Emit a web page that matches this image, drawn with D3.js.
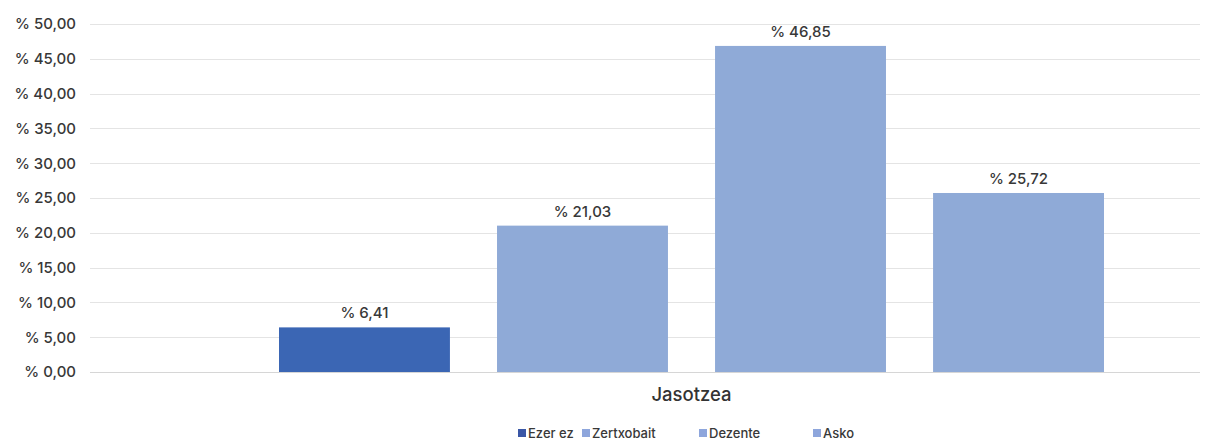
<!DOCTYPE html>
<html>
<head>
<meta charset="utf-8">
<script src="https://cdn.jsdelivr.net/npm/d3@7"></script>
<style>
  html, body { margin: 0; padding: 0; background: #fff; }
  svg { display: block; font-family: Inter, "Noto Sans", sans-serif; font-weight: 500; }
</style>
</head>
<body>
<svg id="chart" width="1209" height="440"></svg>
<script>
// Survey responses for "Jasotzea"
const group = "Jasotzea";
const categories = ["Ezer ez", "Zertxobait", "Dezente", "Asko"];
const values = [6.41, 21.03, 46.85, 25.72];
const yTicks = [0, 5, 10, 15, 20, 25, 30, 35, 40, 45, 50];
const colors = ["#3b66b4", "#8faad7", "#8faad7", "#8faad7"];
const legendColors = ["#3a57a6", "#8ea6dc", "#8ea6dc", "#8ea6dc"];

const svg = d3.select("#chart");
const fmt = v => "% " + v.toFixed(2).replace(".", ",");

const y = d3.scaleLinear().domain([0, 50]).range([372, 24]);
const x = d3.scaleBand().domain(categories).range([279, 1104])
  .paddingInner(0.216).paddingOuter(0);

// horizontal gridlines
svg.append("g").selectAll("line").data(yTicks).join("line")
  .attr("x1", 90).attr("x2", 1200)
  .attr("y1", d => Math.round(y(d)) + 0.5).attr("y2", d => Math.round(y(d)) + 0.5)
  .attr("stroke", d => d === 0 ? "#d6d6d6" : "#e4e4e4").attr("stroke-width", 1);

// y axis labels
const yAxis = d3.axisLeft(y).tickValues(yTicks).tickSize(0).tickPadding(0).tickFormat(fmt);
svg.append("g").attr("transform", "translate(76,0)").call(yAxis)
  .call(g => g.select(".domain").remove())
  .call(g => g.selectAll("text").attr("fill", "#383838").attr("font-size", 15)
    .attr("font-family", "Inter, sans-serif").attr("font-weight", 500));

// bars
svg.append("g").selectAll("rect").data(values).join("rect")
  .attr("x", (d, i) => x(categories[i]))
  .attr("width", x.bandwidth())
  .attr("y", d => y(d))
  .attr("height", d => y(0) - y(d))
  .attr("fill", (d, i) => colors[i]);

// value labels
svg.append("g").selectAll("text").data(values).join("text")
  .attr("x", (d, i) => x(categories[i]) + x.bandwidth() / 2)
  .attr("y", d => y(d) - 9)
  .attr("text-anchor", "middle")
  .attr("font-size", 15).attr("fill", "#383838")
  .text(fmt);

// category label
svg.append("text")
  .attr("x", (x.range()[0] + x.range()[1]) / 2).attr("y", 401)
  .attr("text-anchor", "middle").attr("font-size", 18.5).attr("fill", "#333")
  .text(group);

// legend
const legendX = [518, 582, 699, 813];
const lg = svg.append("g").selectAll("g").data(categories).join("g")
  .attr("transform", (d, i) => `translate(${legendX[i]},0)`);
lg.append("rect").attr("x", 0).attr("y", 429).attr("width", 8).attr("height", 8)
  .attr("fill", (d, i) => legendColors[i]);
lg.append("text").attr("x", 10).attr("y", 438).attr("font-size", 13)
  .attr("fill", "#383838").text(d => d);
</script>
</body>
</html>
